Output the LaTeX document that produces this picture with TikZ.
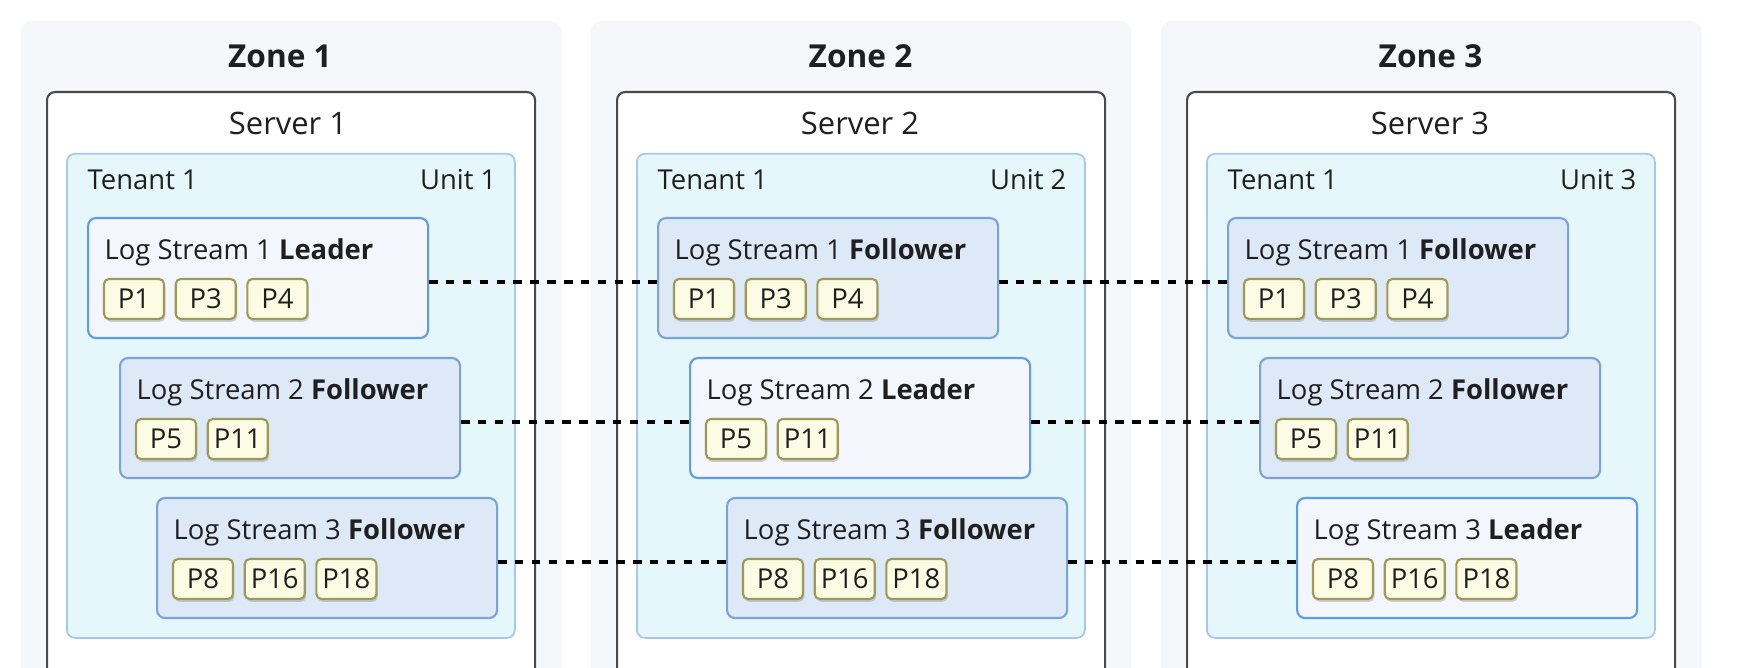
\documentclass[tikz,border=0pt]{standalone}
\usepackage{fontspec}
\setmainfont{Open Sans}
\usetikzlibrary{arrows.meta, positioning, shadows}

\definecolor{zonebg}{HTML}{F6F7F9}
\definecolor{srvline}{HTML}{4A4A4A}
\definecolor{tenfill}{HTML}{E6F7FB}
\definecolor{tenline}{HTML}{A6C8F0}
\definecolor{leadfill}{HTML}{F3F6FC}
\definecolor{leadline}{HTML}{5E9CE8}
\definecolor{follfill}{HTML}{DEE9F8}
\definecolor{follline}{HTML}{7AA3D8}
\definecolor{pfill}{HTML}{FCFCE4}
\definecolor{pline}{HTML}{9C9A56}
\definecolor{ink}{HTML}{1F1F1F}

\begin{document}
\begin{tikzpicture}[
	font=\fontsize{7.8}{9}\selectfont,
	text=ink,
	% Style for zone backgrounds
	zone/.style={rectangle, rounded corners=0.12cm, fill=zonebg, minimum width=5.41cm, minimum height=7cm, anchor=north west},
	% Style for server and tenant unit boxes
	server/.style={rectangle, rounded corners=0.08cm, draw=srvline, line width=0.6pt, fill=white, minimum width=4.88cm, minimum height=6.5cm, anchor=north west},
	tenant/.style={rectangle, rounded corners=0.08cm, draw=tenline, line width=0.5pt, fill=tenfill, minimum width=4.48cm, minimum height=4.84cm, anchor=north west},
	tlabel/.style={inner sep=0pt},
	% Style for log stream replicas
	lstream/.style={rectangle, rounded corners=0.08cm, line width=0.6pt, minimum width=3.4cm, minimum height=1.2cm, anchor=north west},
	leader/.style={lstream, fill=leadfill, draw=leadline},
	follower/.style={lstream, fill=follfill, draw=follline},
	lstitle/.style={anchor=west, inner sep=0pt},
	% Style for partitions
	pbox/.style={rectangle, rounded corners=0.05cm, draw=pline, line width=0.6pt, fill=pfill, minimum width=0.6cm, minimum height=0.40cm, inner sep=0pt, outer sep=0pt,
		drop shadow={shadow xshift=0.4pt, shadow yshift=-0.8pt, opacity=0.35}},
	ztitle/.style={font=\fontsize{9}{10}\selectfont\bfseries},
	stitle/.style={font=\fontsize{8.8}{10}\selectfont},
	% Style for replica links
	link/.style={line width=1pt, dash pattern=on 2.4pt off 2.4pt}
	]
	
	\useasboundingbox (0,0) rectangle (17.42,-6.68);
	\clip (0,0) rectangle (17.42,-6.68);
	
	% 1. Zone 1
	\node[zone] (zone1) at (0.20,-0.20) {};
	\node[ztitle] at (2.80,-0.56) {Zone 1};
	\node[server] (srv1) at (0.46,-0.91) {};
	\node[stitle] at (2.88,-1.23) {Server 1};
	\node[tenant] (ten1) at (0.66,-1.53) {};
	\node[tlabel, anchor=west] at (0.87,-1.80) {Tenant 1};
	\node[tlabel, anchor=east] at (4.97,-1.80) {Unit 1};
	
	\node[leader] (ls1z1) at (0.87,-2.17) {};
	\node[lstitle] at ([shift={(0.17,-0.35)}]ls1z1.north west) {Log Stream 1 \textbf{Leader}};
	\node[pbox, anchor=west] (p1z1) at ([shift={(0.17,-0.82)}]ls1z1.north west) {P1};
	\node[pbox, right=0.117cm of p1z1] (p3z1) {P3};
	\node[pbox, right=0.117cm of p3z1] (p4z1) {P4};
	
	\node[follower] (ls2z1) at (1.19,-3.57) {};
	\node[lstitle] at ([shift={(0.17,-0.35)}]ls2z1.north west) {Log Stream 2 \textbf{Follower}};
	\node[pbox, anchor=west] (p5z1) at ([shift={(0.17,-0.82)}]ls2z1.north west) {P5};
	\node[pbox, right=0.117cm of p5z1] (p11z1) {P11};
	
	\node[follower] (ls3z1) at (1.56,-4.97) {};
	\node[lstitle] at ([shift={(0.17,-0.35)}]ls3z1.north west) {Log Stream 3 \textbf{Follower}};
	\node[pbox, anchor=west] (p8z1) at ([shift={(0.17,-0.82)}]ls3z1.north west) {P8};
	\node[pbox, right=0.117cm of p8z1] (p16z1) {P16};
	\node[pbox, right=0.117cm of p16z1] (p18z1) {P18};
	
	% 2. Zone 2
	\node[zone] (zone2) at (5.90,-0.20) {};
	\node[ztitle] at (8.605,-0.56) {Zone 2};
	\node[server] (srv2) at (6.16,-0.91) {};
	\node[stitle] at (8.60,-1.23) {Server 2};
	\node[tenant] (ten2) at (6.36,-1.53) {};
	\node[tlabel, anchor=west] at (6.57,-1.80) {Tenant 1};
	\node[tlabel, anchor=east] at (10.67,-1.80) {Unit 2};
	
	\node[follower] (ls1z2) at (6.57,-2.17) {};
	\node[lstitle] at ([shift={(0.17,-0.35)}]ls1z2.north west) {Log Stream 1 \textbf{Follower}};
	\node[pbox, anchor=west] (p1z2) at ([shift={(0.17,-0.82)}]ls1z2.north west) {P1};
	\node[pbox, right=0.117cm of p1z2] (p3z2) {P3};
	\node[pbox, right=0.117cm of p3z2] (p4z2) {P4};
	
	\node[leader] (ls2z2) at (6.89,-3.57) {};
	\node[lstitle] at ([shift={(0.17,-0.35)}]ls2z2.north west) {Log Stream 2 \textbf{Leader}};
	\node[pbox, anchor=west] (p5z2) at ([shift={(0.17,-0.82)}]ls2z2.north west) {P5};
	\node[pbox, right=0.117cm of p5z2] (p11z2) {P11};
	
	\node[follower] (ls3z2) at (7.26,-4.97) {};
	\node[lstitle] at ([shift={(0.17,-0.35)}]ls3z2.north west) {Log Stream 3 \textbf{Follower}};
	\node[pbox, anchor=west] (p8z2) at ([shift={(0.17,-0.82)}]ls3z2.north west) {P8};
	\node[pbox, right=0.117cm of p8z2] (p16z2) {P16};
	\node[pbox, right=0.117cm of p16z2] (p18z2) {P18};
	
	% 3. Zone 3
	\node[zone] (zone3) at (11.60,-0.20) {};
	\node[ztitle] at (14.305,-0.56) {Zone 3};
	\node[server] (srv3) at (11.86,-0.91) {};
	\node[stitle] at (14.30,-1.23) {Server 3};
	\node[tenant] (ten3) at (12.06,-1.53) {};
	\node[tlabel, anchor=west] at (12.27,-1.80) {Tenant 1};
	\node[tlabel, anchor=east] at (16.37,-1.80) {Unit 3};
	
	\node[follower] (ls1z3) at (12.27,-2.17) {};
	\node[lstitle] at ([shift={(0.17,-0.35)}]ls1z3.north west) {Log Stream 1 \textbf{Follower}};
	\node[pbox, anchor=west] (p1z3) at ([shift={(0.17,-0.82)}]ls1z3.north west) {P1};
	\node[pbox, right=0.117cm of p1z3] (p3z3) {P3};
	\node[pbox, right=0.117cm of p3z3] (p4z3) {P4};
	
	\node[follower] (ls2z3) at (12.59,-3.57) {};
	\node[lstitle] at ([shift={(0.17,-0.35)}]ls2z3.north west) {Log Stream 2 \textbf{Follower}};
	\node[pbox, anchor=west] (p5z3) at ([shift={(0.17,-0.82)}]ls2z3.north west) {P5};
	\node[pbox, right=0.117cm of p5z3] (p11z3) {P11};
	
	\node[leader] (ls3z3) at (12.96,-4.97) {};
	\node[lstitle] at ([shift={(0.17,-0.35)}]ls3z3.north west) {Log Stream 3 \textbf{Leader}};
	\node[pbox, anchor=west] (p8z3) at ([shift={(0.17,-0.82)}]ls3z3.north west) {P8};
	\node[pbox, right=0.117cm of p8z3] (p16z3) {P16};
	\node[pbox, right=0.117cm of p16z3] (p18z3) {P18};
	
	% 4. Replica links between zones
	\draw[link] ([yshift=-0.04cm]ls1z1.east) -- ([yshift=-0.04cm]ls1z2.west);
	\draw[link] ([yshift=-0.04cm]ls1z2.east) -- ([yshift=-0.04cm]ls1z3.west);
	\draw[link] ([yshift=-0.04cm]ls2z1.east) -- ([yshift=-0.04cm]ls2z2.west);
	\draw[link] ([yshift=-0.04cm]ls2z2.east) -- ([yshift=-0.04cm]ls2z3.west);
	\draw[link] ([yshift=-0.04cm]ls3z1.east) -- ([yshift=-0.04cm]ls3z2.west);
	\draw[link] ([yshift=-0.04cm]ls3z2.east) -- ([yshift=-0.04cm]ls3z3.west);
	
\end{tikzpicture}
\end{document}
